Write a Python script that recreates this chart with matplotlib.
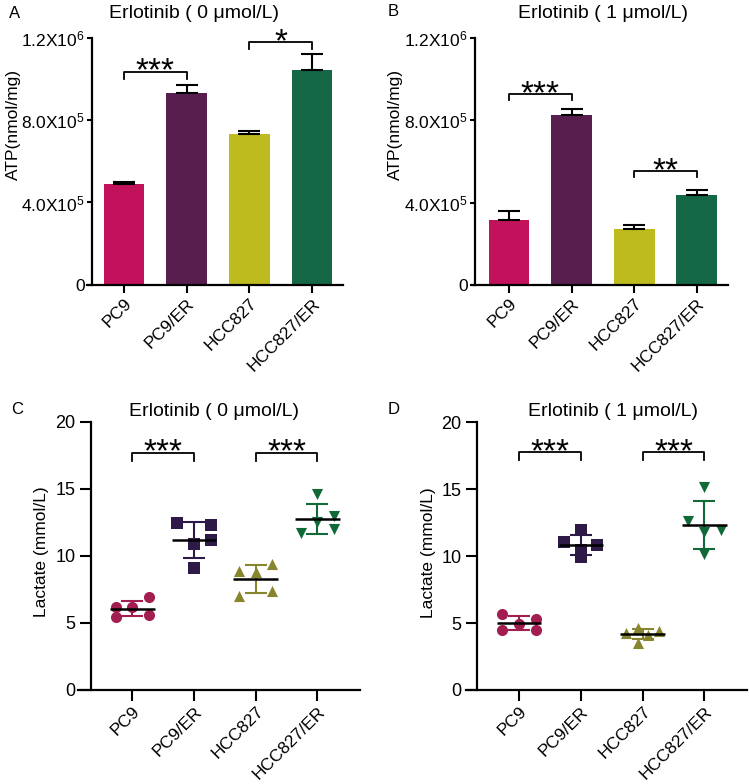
import numpy as np
import matplotlib
matplotlib.use("Agg")
import matplotlib.pyplot as plt

plt.rcParams["font.family"] = ["Liberation Sans", "DejaVu Sans"]
plt.rcParams["mathtext.fontset"] = "custom"
plt.rcParams["mathtext.rm"] = "Liberation Sans"
plt.rcParams["mathtext.it"] = "Liberation Sans"

W, H = 749, 784

groups = ["PC9", "PC9/ER", "HCC827", "HCC827/ER"]
bar_colors = ["#C2125C", "#571E4E", "#BDBB1E", "#146845"]
dot_colors = ["#A31E50", "#2E1A47", "#87852E", "#0F6A38"]
dot_markers = ["o", "s", "^", "v"]

# ATP (nmol/mg): mean and SD
atp_0 = [4.90e5, 9.31e5, 7.31e5, 1.042e6]
atp_0_err = [1.0e4, 3.7e4, 1.7e4, 7.9e4]
atp_1 = [3.15e5, 8.23e5, 2.70e5, 4.37e5]
atp_1_err = [4.4e4, 2.9e4, 2.0e4, 2.4e4]
atp_ticks = ["0", r"4.0X10$^{5}$", r"8.0X10$^{5}$", r"1.2X10$^{6}$"]

# lactate replicates (mmol/L), with the horizontal spread of each dot
lac_0 = [
    [6.21, 6.16, 6.91, 5.47, 5.57],
    [12.42, 12.27, 10.88, 11.18, 9.12],
    [8.9, 8.8, 9.4, 7.0, 7.4],
    [14.6, 12.5, 13.0, 11.7, 12.0],
]
lac_0_spread = [
    [-1, 0, 1, -1, 1],
    [-1, 1, 0, 1, 0],
    [-1, 0, 1, -1, 1],
    [0, 0, 1, -1, 1],
]
lac_1 = [
    [5.68, 4.91, 5.33, 4.48, 4.48],
    [11.96, 11.03, 10.83, 10.46, 9.91],
    [4.23, 4.63, 4.11, 4.41, 3.54],
    [15.14, 12.65, 11.83, 11.96, 10.16],
]
lac_1_spread = [
    [-1, 0, 1, -1, 1],
    [0, -1, 1, 0, 0],
    [-1, -0.3, 0.3, 1, -0.3],
    [0, -1, 0, 1, 0],
]

# significance brackets: (left group, right group, label, bracket height)
sig_atp_0 = [(0, 1, "***", 1.035e6), (2, 3, "*", 1.177e6)]
sig_atp_1 = [(0, 1, "***", 0.927e6), (2, 3, "**", 0.553e6)]
sig_lac_0 = [(0, 1, "***", 17.7), (2, 3, "***", 17.7)]
sig_lac_1 = [(0, 1, "***", 17.76), (2, 3, "***", 17.76)]

fig = plt.figure(figsize=(W / 100, H / 100), dpi=100)


def make_axes(x0, dx, xl, xr, yx, yb, yt, ylim, tick_len):
    # geometry in pixels of the reference picture
    ax = fig.add_axes([xl / W, 1 - yb / H, (xr - xl) / W, (yb - yt) / H])
    ax.set_xlim((xl - x0) / dx, (xr - x0) / dx)
    ax.set_ylim(*ylim)
    ax.spines["left"].set_position(("data", (yx - x0) / dx))
    for s in ["top", "right"]:
        ax.spines[s].set_visible(False)
    for s in ["left", "bottom"]:
        ax.spines[s].set_linewidth(1.6)
    ax.set_xticks(range(len(groups)))
    ax.set_xticklabels(groups, rotation=45, ha="right", va="top",
                       rotation_mode="anchor", fontsize=12.5)
    ax.tick_params(axis="both", width=1.5)
    ax.tick_params(axis="y", length=tick_len[0], pad=tick_len[2])
    ax.tick_params(axis="x", length=tick_len[1], pad=2)
    return ax


def brackets(ax, sigs, drop):
    for a, b, label, y in sigs:
        ax.plot([a, a, b, b], [y - drop, y, y, y - drop], color="black",
                lw=1.3, clip_on=False)
        ax.annotate(label, ((a + b) / 2, y), xytext=(0, -6.5),
                    textcoords="offset points", ha="center", va="baseline",
                    fontsize=24, annotation_clip=False)


def bar_panel(ax, vals, errs):
    x = np.arange(len(groups))
    ax.bar(x, vals, width=0.65, color=bar_colors, zorder=2)
    ax.errorbar(x, vals, yerr=[np.zeros(len(vals)), errs], fmt="none",
                ecolor="black", elinewidth=1.5, capsize=8, capthick=1.5, zorder=3)
    ax.set_yticks([0, 4e5, 8e5, 1.2e6])
    ax.set_yticklabels(atp_ticks, fontsize=12.5)


def dot_panel(ax, reps, spread):
    for i, (vals, off) in enumerate(zip(reps, spread)):
        vals = np.array(vals)
        xs = i + 0.27 * np.array(off)
        ax.scatter(xs, vals, s=64, marker=dot_markers[i], color=dot_colors[i],
                   linewidths=0, zorder=2)
        m = vals.mean()
        sd = vals.std(ddof=1)
        ax.errorbar(i, m, yerr=sd, fmt="none", ecolor=dot_colors[i],
                    elinewidth=1.5, capsize=8, capthick=1.5, zorder=3)
        ax.hlines(m, i - 0.36, i + 0.36, color="black", lw=1.8, zorder=4)
    ax.set_yticks([0, 5, 10, 15, 20])
    ax.set_yticklabels(["0", "5", "10", "15", "20"], fontsize=13)


axA = make_axes(124, 62.7, 87, 343, 92, 285, 37.5, (0, 1.2e6), (3.6, 5.8, 1.5))
bar_panel(axA, atp_0, atp_0_err)
brackets(axA, sig_atp_0, 0.034e6)

axB = make_axes(509, 62.6, 471.7, 728.3, 475, 285, 37.7, (0, 1.2e6), (3.6, 5.8, 1.5))
bar_panel(axB, atp_1, atp_1_err)
brackets(axB, sig_atp_1, 0.03e6)

axC = make_axes(132.3, 61.7, 78, 360, 90.7, 690, 421.7, (0, 20), (8, 8, 3))
dot_panel(axC, lac_0, lac_0_spread)
brackets(axC, sig_lac_0, 0.6)

axD = make_axes(519, 61.8, 465.7, 746.7, 476.7, 690, 422.3, (0, 20), (8, 8, 3))
dot_panel(axD, lac_1, lac_1_spread)
brackets(axD, sig_lac_1, 0.6)

# titles, panel letters and axis labels placed in reference pixels
titles = [(194, 14, "Erlotinib ( 0 \u03bcmol/L)"), (602.5, 14, "Erlotinib ( 1 \u03bcmol/L)"),
          (214, 412, "Erlotinib ( 0 \u03bcmol/L)"), (612.5, 412, "Erlotinib ( 1 \u03bcmol/L)")]
for x, y, t in titles:
    fig.text(x / W, 1 - y / H, t, ha="center", va="center", fontsize=14)

for x, y, t in [(15, 14, "A"), (393, 12, "B"), (16.7, 410, "C"), (393.3, 410, "D")]:
    fig.text(x / W, 1 - y / H, t, ha="center", va="center", fontsize=12)

ylabels = [(13.3, 125, "ATP(nmol/mg)"), (395, 125, "ATP(nmol/mg)"),
           (41.7, 552, "Lactate (mmol/L)"), (428.3, 553, "Lactate (mmol/L)")]
for x, y, t in ylabels:
    fig.text(x / W, 1 - y / H, t, ha="center", va="center", rotation=90, fontsize=12.5)

fig.savefig("out.png", dpi=100)
